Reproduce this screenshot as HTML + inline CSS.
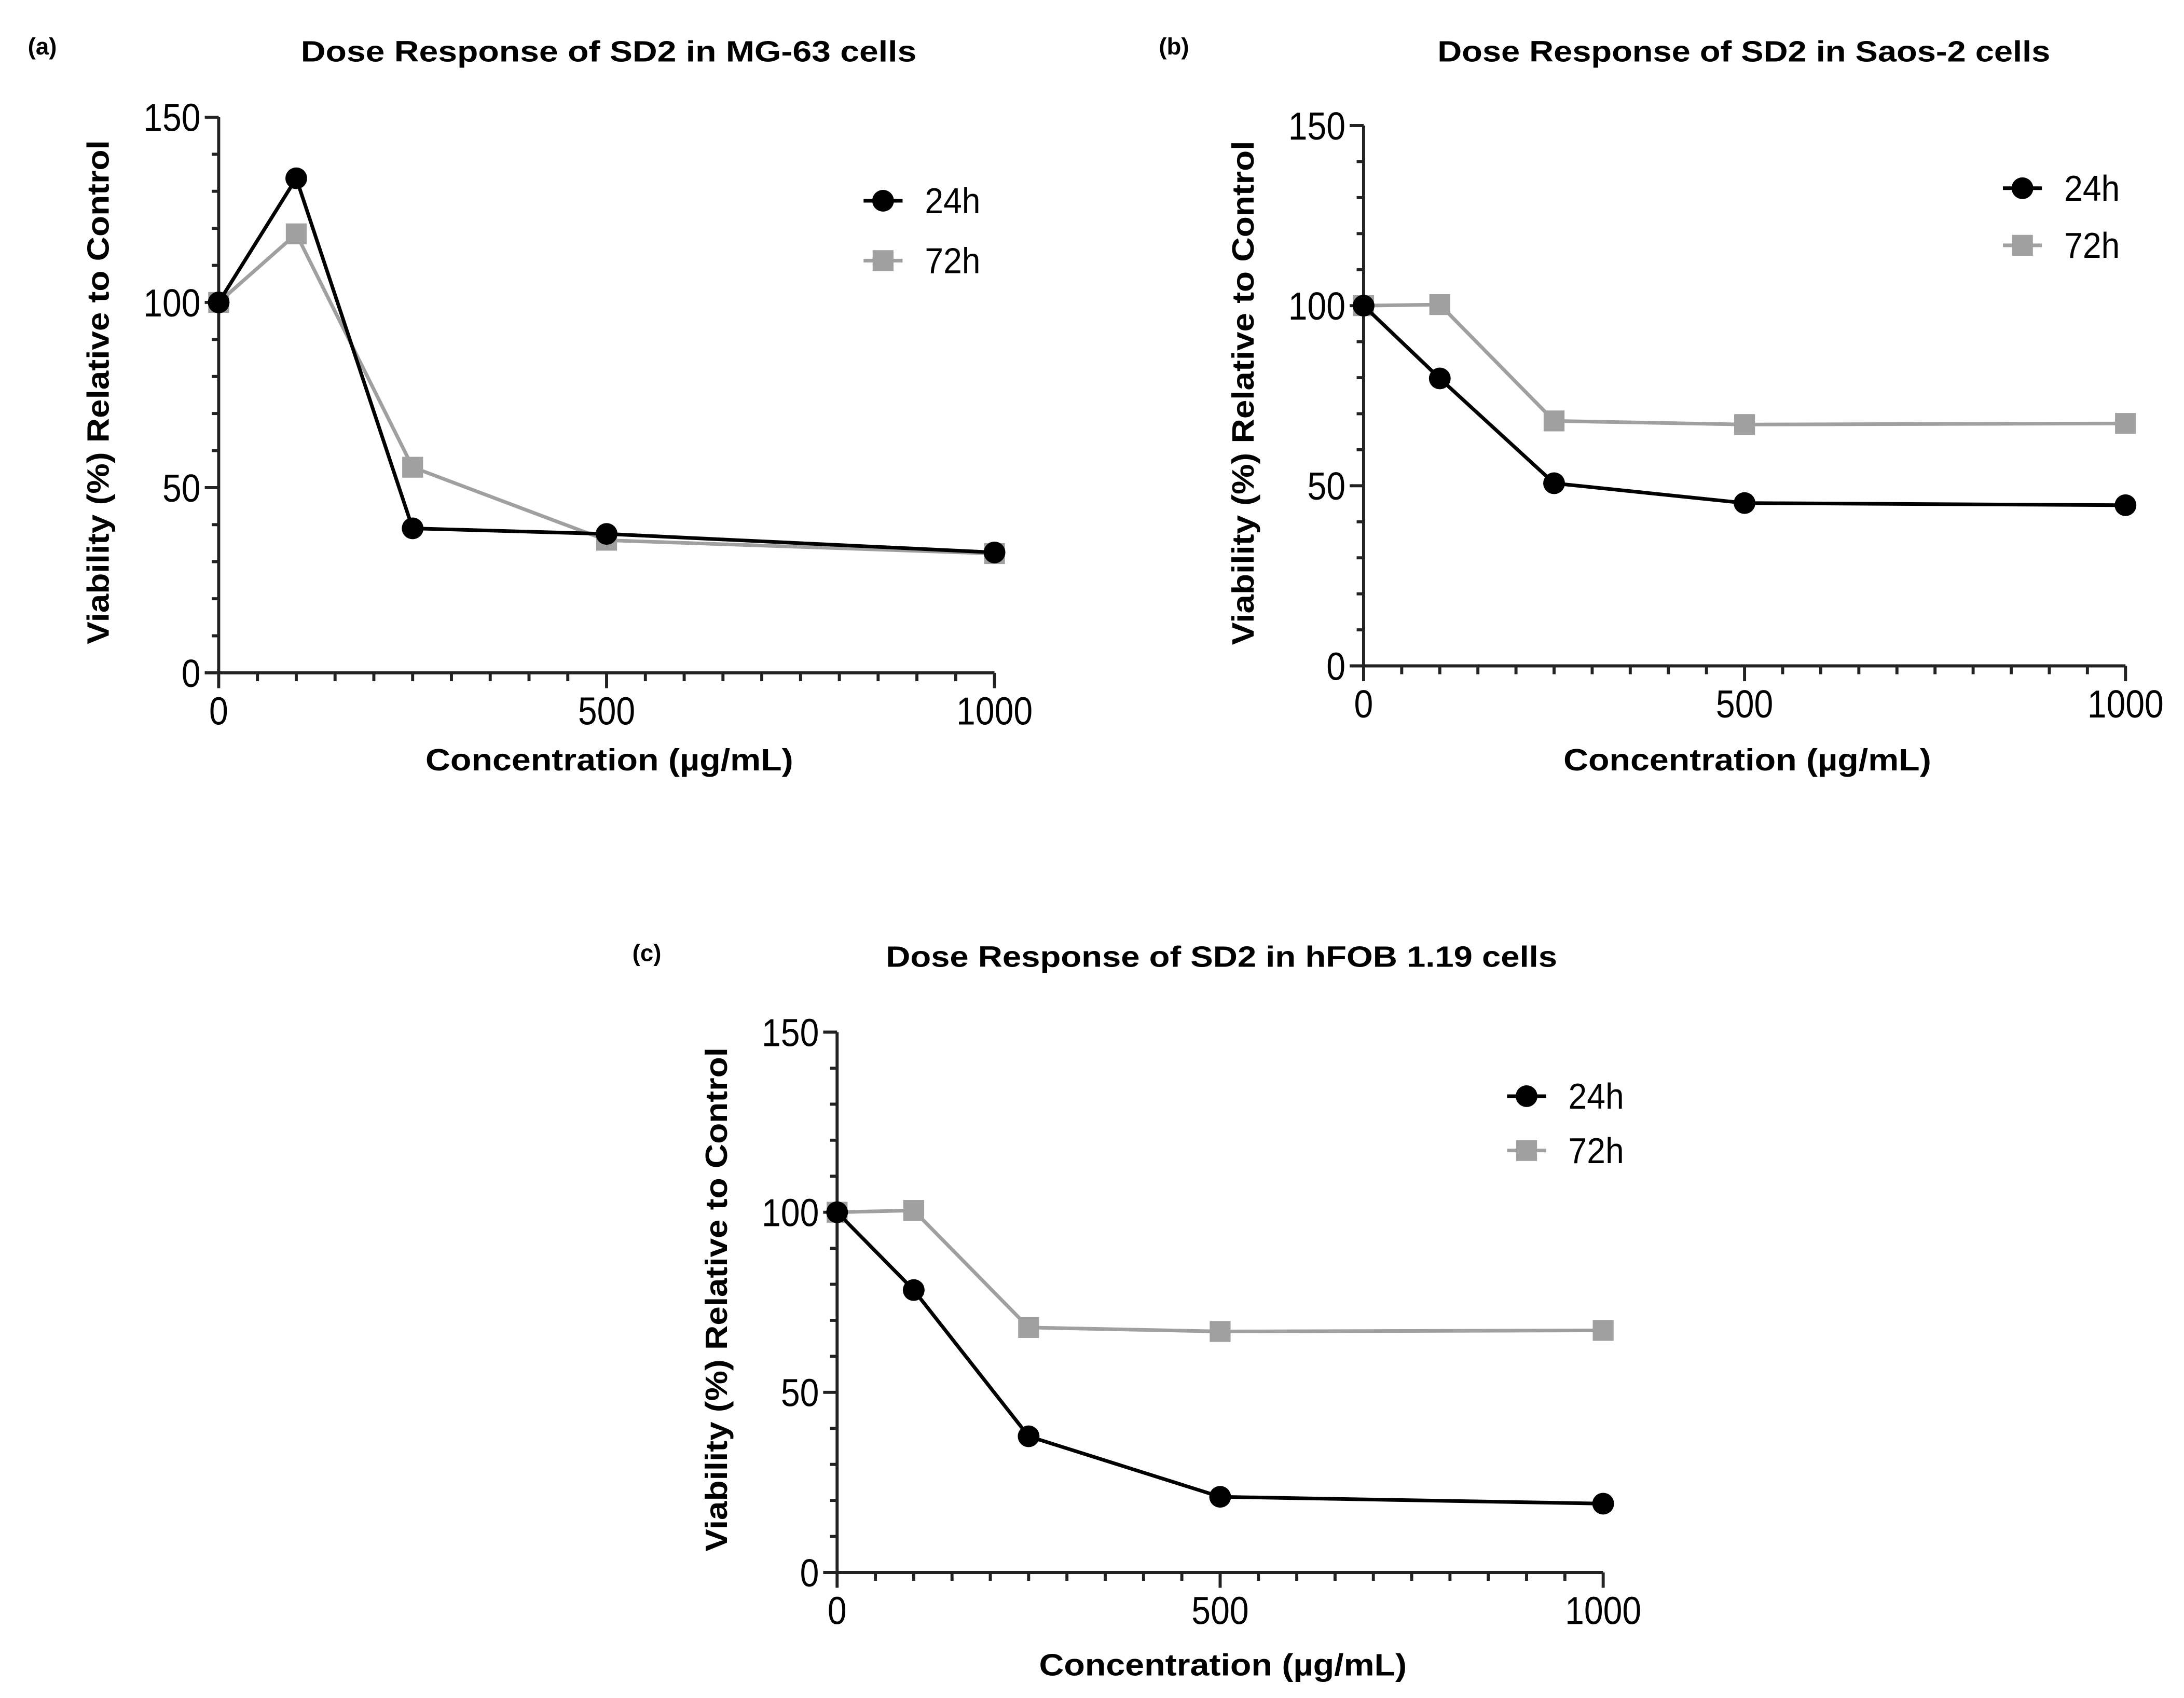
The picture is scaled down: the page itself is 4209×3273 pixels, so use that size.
<!DOCTYPE html>
<html><head><meta charset="utf-8"><style>
html,body{margin:0;padding:0;background:#fff;}
svg{display:block;}
text{font-family:"Liberation Sans",sans-serif;}
</style></head><body>
<svg id="fig" width="4209" height="3273" viewBox="0 0 1568 1219" xmlns="http://www.w3.org/2000/svg">
<rect width="1568" height="1219" fill="#fff"/>
</svg>
<script>
const xVals = [0, 100, 250, 500, 1000];
const a24 = [100, 133.5, 39, 37.5, 32.5];
const a72 = [100, 118.5, 55.5, 35.8, 32.2];
const b24 = [100, 79.8, 50.7, 45.2, 44.6];
const b72 = [100, 100.3, 68, 67, 67.3];
const c24 = [100, 78.4, 37.8, 21, 19.1];
const c72 = [100, 100.5, 68, 66.9, 67.2];
const yTicks = [0, 50, 100, 150];
const xTicks = [0, 500, 1000];
const seriesNames = ["24h", "72h"];

const NS = "http://www.w3.org/2000/svg";
const svg = document.getElementById("fig");
function mk(tag, attrs, parent) {
  const e = document.createElementNS(NS, tag);
  for (const k in attrs) e.setAttribute(k, attrs[k]);
  (parent || svg).appendChild(e);
  return e;
}

const panels = [
  {id:"a", label:"(a)", lx:20, ly:39, title:"Dose Response of SD2 in MG-63 cells", tx:437, ty:44, tlen:442,
   x0:157, x1:714, y0:483, y1:84, s24:a24, s72:a72, legX:634, legY:144, legY2:187, xtOff:70},
  {id:"b", label:"(b)", lx:832, ly:39, title:"Dose Response of SD2 in Saos-2 cells", tx:1252, ty:44, tlen:440,
   x0:979, x1:1526, y0:478, y1:90, s24:b24, s72:b72, legX:1452, legY:135, legY2:176, xtOff:75},
  {id:"c", label:"(c)", lx:454, ly:690, title:"Dose Response of SD2 in hFOB 1.19 cells", tx:877, ty:694, tlen:482,
   x0:601, x1:1151, y0:1129, y1:741, s24:c24, s72:c72, legX:1096, legY:787, legY2:826, xtOff:74}
];

panels.forEach(p => {
  const g = mk("g", {});
  
  
  const X = v => p.x0 + (p.x1 - p.x0) * v / 1000;
  const Y = v => p.y0 - (p.y0 - p.y1) * v / 150;

  const lab = mk("text", {x:p.lx, y:p.ly, "font-size":17, "font-weight":"bold", fill:"#000"}, g);
  lab.textContent = p.label;
  
  

  const t = mk("text", {x:p.tx, y:p.ty, "font-size":21, "font-weight":"bold", "text-anchor":"middle", textLength:p.tlen, lengthAdjust:"spacingAndGlyphs", fill:"#000"}, g);
  t.textContent = p.title;
  
  

  const ax = mk("g", {stroke:"#222", "stroke-width":2.2}, g);
  
  
  mk("line", {x1:p.x0, y1:p.y1, x2:p.x0, y2:p.y0 + 11}, ax);
  mk("line", {x1:p.x0 - 10, y1:p.y0, x2:p.x1, y2:p.y0}, ax);
  for (let v = 10; v <= 150; v += 10) {
    const maj = v % 50 === 0;
    mk("line", {x1:p.x0 - (maj ? 10 : 5), y1:Y(v), x2:p.x0, y2:Y(v)}, ax);
  }
  for (let v = 50; v <= 1000; v += 50) {
    const maj = v % 500 === 0;
    mk("line", {x1:X(v), y1:p.y0, x2:X(v), y2:p.y0 + (maj ? 11 : 6)}, ax);
  }
  yTicks.forEach(v => {
    const tt = mk("text", {transform:`translate(${p.x0 - 13},${Y(v) + 10}) scale(0.88,1)`, "font-size":28, "text-anchor":"end", fill:"#000"}, g);
    tt.textContent = v;
    
    
  });
  xTicks.forEach(v => {
    const tt = mk("text", {transform:`translate(${X(v)},${p.y0 + 37}) scale(0.88,1)`, "font-size":28, "text-anchor":"middle", fill:"#000"}, g);
    tt.textContent = v;
    
    
  });
  const xt = mk("text", {x:(p.x0 + p.x1) / 2 + 2, y:p.y0 + p.xtOff, "font-size":22, "font-weight":"bold", "text-anchor":"middle", textLength:264, lengthAdjust:"spacingAndGlyphs", fill:"#000"}, g);
  xt.textContent = "Concentration (µg/mL)";
  
  
  const ycx = p.x0 - 79, ycy = (p.y0 + p.y1) / 2 - 2;
  const yt = mk("text", {x:0, y:0, transform:`translate(${ycx},${ycy}) rotate(-90)`, "font-size":22, "font-weight":"bold", "text-anchor":"middle", textLength:362, lengthAdjust:"spacingAndGlyphs", fill:"#000"}, g);
  yt.textContent = "Viability (%) Relative to Control";
  
  

  const pts72 = xVals.map((x, i) => X(x) + "," + Y(p.s72[i])).join(" ");
  const l72 = mk("polyline", {points:pts72, fill:"none", stroke:"#a0a0a0", "stroke-width":2.6}, g);
  
  
  const pts24 = xVals.map((x, i) => X(x) + "," + Y(p.s24[i])).join(" ");
  xVals.forEach((x, i) => {
    const r = mk("rect", {x:X(x) - 7.5, y:Y(p.s72[i]) - 7.5, width:15, height:15, fill:"#a0a0a0"}, g);
    
    
  });
  const l24 = mk("polyline", {points:pts24, fill:"none", stroke:"#000", "stroke-width":2.6}, g);
  
  
  xVals.forEach((x, i) => {
    const c = mk("circle", {cx:X(x), cy:Y(p.s24[i]), r:7.8, fill:"#000"}, g);
    
    
  });

  const lg = mk("g", {}, g);
  
  
  const e1 = mk("g", {}, lg);
  
  
  mk("line", {x1:p.legX - 14, y1:p.legY, x2:p.legX + 14, y2:p.legY, stroke:"#000", "stroke-width":2.6}, e1);
  mk("circle", {cx:p.legX, cy:p.legY, r:7.8, fill:"#000"}, e1);
  const tx1 = mk("text", {transform:`translate(${p.legX + 30},${p.legY + 9}) scale(0.92,1)`, "font-size":26, fill:"#000"}, e1);
  tx1.textContent = seriesNames[0];
  const e2 = mk("g", {}, lg);
  
  
  mk("line", {x1:p.legX - 14, y1:p.legY2, x2:p.legX + 14, y2:p.legY2, stroke:"#a0a0a0", "stroke-width":2.6}, e2);
  mk("rect", {x:p.legX - 7.5, y:p.legY2 - 7.5, width:15, height:15, fill:"#a0a0a0"}, e2);
  const tx2 = mk("text", {transform:`translate(${p.legX + 30},${p.legY2 + 9}) scale(0.92,1)`, "font-size":26, fill:"#000"}, e2);
  tx2.textContent = seriesNames[1];
});
</script>
</body></html>
